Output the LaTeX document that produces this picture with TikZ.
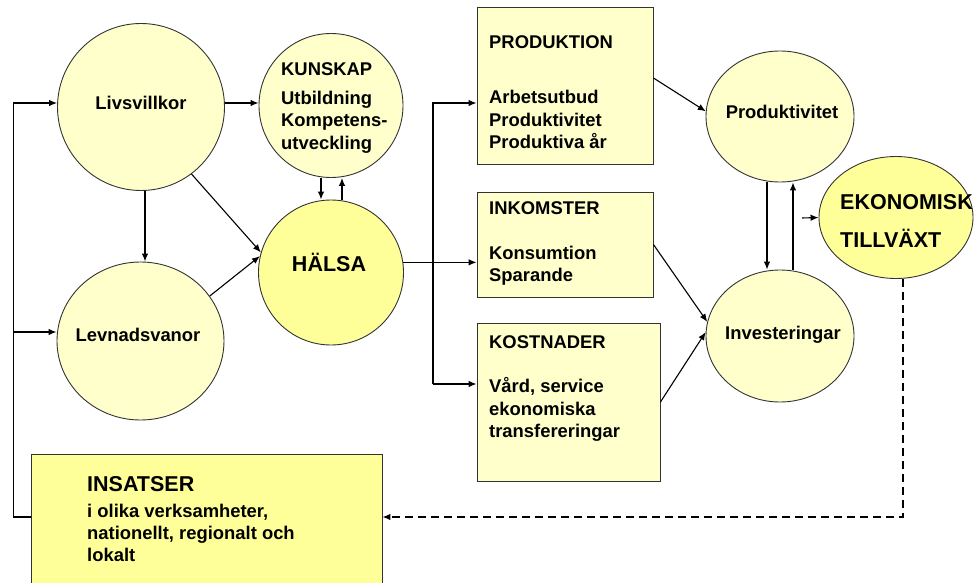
\documentclass[tikz,border=0pt]{standalone}
\usepackage{fontspec}
\setmainfont{Liberation Sans}
\usetikzlibrary{arrows.meta,calc,shapes.geometric}
\definecolor{paleY}{HTML}{FFFFCC}
\definecolor{brightY}{HTML}{FFFF99}
\definecolor{edgeC}{HTML}{333333}
\begin{document}
\begin{tikzpicture}[x=1pt,y=-1pt,
  shapeline/.style={draw=edgeC, line width=0.9pt, inner sep=0pt},
  circ/.style={shapeline, circle, fill=paleY, minimum size=#1},
  ell/.style={shapeline, ellipse, fill=paleY},
  boxn/.style={shapeline, rectangle, fill=paleY},
  txt/.style={inner sep=0pt, font=\fontsize{18.4}{22.5}\selectfont\bfseries, anchor=base west},
  txtc/.style={txt, anchor=base},
  bigt/.style={inner sep=0pt, font=\fontsize{21.5}{26}\selectfont\bfseries, anchor=base west},
  conn/.style={line width=1.1pt, -{Latex[length=8pt,width=6.5pt]}},
  plain/.style={line width=1.1pt},
  dashconn/.style={line width=1.1pt, dash pattern=on 8pt off 5pt, -{Latex[length=8pt,width=6.5pt]}}
]
\clip (0,0) rectangle (974,583);
\useasboundingbox (0,0) rectangle (974,583);

% shapes
\node[circ=167pt] (livs) at (141,107) {};
\node[circ=144pt] (kun) at (331,105.5) {};
\node[circ=145pt, fill=brightY] (hal) at (331,272.5) {};
\node[ell, minimum width=167pt, minimum height=158pt] (lev) at (140.5,341) {};
\node[boxn, minimum width=176pt, minimum height=157pt] (prod) at (565,85.5) {};
\node[boxn, minimum width=176pt, minimum height=105pt] (ink) at (565,244.5) {};
\node[boxn, minimum width=183pt, minimum height=158pt] (kost) at (568.5,402) {};
\node[ell, minimum width=148pt, minimum height=131pt] (pv) at (780,116.5) {};
\node[ell, minimum width=148pt, minimum height=132pt] (inv) at (780,336) {};
\node[ell, fill=brightY, minimum width=154pt, minimum height=122pt] (ek) at (896,217.5) {};
\node[boxn, fill=brightY, minimum width=351pt, minimum height=136pt] (ins) at (206.5,522) {};

% texts
\node[txtc] (tlivs) at (141,110) {Livsvillkor};
\node[txt] (tkun1) at (281,76) {KUNSKAP};
\node[txt] (tkun2) at (281,105) {Utbildning};
\node[txt] (tkun3) at (281,126.7) {Kompetens-};
\node[txt] (tkun4) at (281,149.3) {utveckling};
\node[bigt, anchor=base] (thal) at (329,271) {HÄLSA};
\node[txtc] (tlev) at (138,341) {Levnadsvanor};
\node[bigt] (tins1) at (87,491) {INSATSER};
\node[txt] (tins2) at (87,517) {i olika verksamheter,};
\node[txt] (tins3) at (87,539.3) {nationellt, regionalt och};
\node[txt] (tins4) at (87,561.6) {lokalt};
\node[txt] (tprod1) at (489,49) {PRODUKTION};
\node[txt] (tprod2) at (489,104) {Arbetsutbud};
\node[txt] (tprod3) at (489,126.5) {Produktivitet};
\node[txt] (tprod4) at (489,149) {Produktiva år};
\node[txt] (tink1) at (489,214) {INKOMSTER};
\node[txt] (tink2) at (489,259.3) {Konsumtion};
\node[txt] (tink3) at (489,281.6) {Sparande};
\node[txt] (tkost1) at (489,348) {KOSTNADER};
\node[txt] (tkost2) at (489,392.7) {Vård, service};
\node[txt] (tkost3) at (489,415) {ekonomiska};
\node[txt] (tkost4) at (489,437.3) {transfereringar};
\node[txtc] (tpv) at (782,119) {Produktivitet};
\node[txtc] (tinv) at (783,339) {Investeringar};
\node[bigt] (tek1) at (840,209) {EKONOMISK};
\node[bigt] (tek2) at (840,247) {TILLVÄXT};

% helper coordinates
\coordinate (fbL) at (13.3,517);
\coordinate (levin) at ([yshift=9pt]lev.west);
\coordinate (livsin) at ([yshift=4pt]livs.west);
\coordinate (brx) at (433,262);
\coordinate (prodin) at ([yshift=-17.5pt]prod.west);
\coordinate (kostin) at ([yshift=18pt]kost.west);
\coordinate (ekin) at (802,218);

% feedback loop on the left
\draw[plain] ([yshift=5pt]ins.west) -- (fbL);
\draw[conn] (fbL) |- (livsin);
\draw[conn] (fbL |- levin) -- (levin);

% left cluster
\draw[conn] ([yshift=4pt]livs.east) -- ([yshift=4pt]livs.east -| kun.west);
\draw[conn] ([xshift=4pt]livs.south) -- ([xshift=4pt]livs.south |- lev.north);
\draw[conn] (livs.-53) -- (hal.164);
\draw[conn] (lev.33.5) -- (hal.167);
\draw[conn] ([xshift=-10pt]kun.south) -- ([xshift=-10pt]hal.north);
\draw[conn] ([xshift=11pt]hal.north) -- ([xshift=11pt]kun.south);

% HÄLSA to the boxes
\draw[conn] (hal.8) -- (hal.8 -| ink.west);
\draw[conn] (brx |- kostin) -- (brx |- prodin) -- (prodin);
\draw[conn] (brx |- kostin) -- (kostin);

% boxes to ellipses
\draw[conn] ([yshift=7.5pt]prod.east) -- (pv.176);
\draw[conn] (ink.east) -- (inv.169);
\draw[conn] (kost.east) -- (inv.177);
\draw[conn] ([xshift=-13pt]pv.south) -- ([xshift=-13pt]inv.north);
\draw[conn] ([xshift=13pt]inv.north) -- ([xshift=13pt]pv.south);
\draw[conn] (ekin) -- (ek.west);

% dashed feedback
\draw[dashconn] ([xshift=7pt]ek.south) |- ([yshift=5pt]ins.east);
\end{tikzpicture}
\end{document}
